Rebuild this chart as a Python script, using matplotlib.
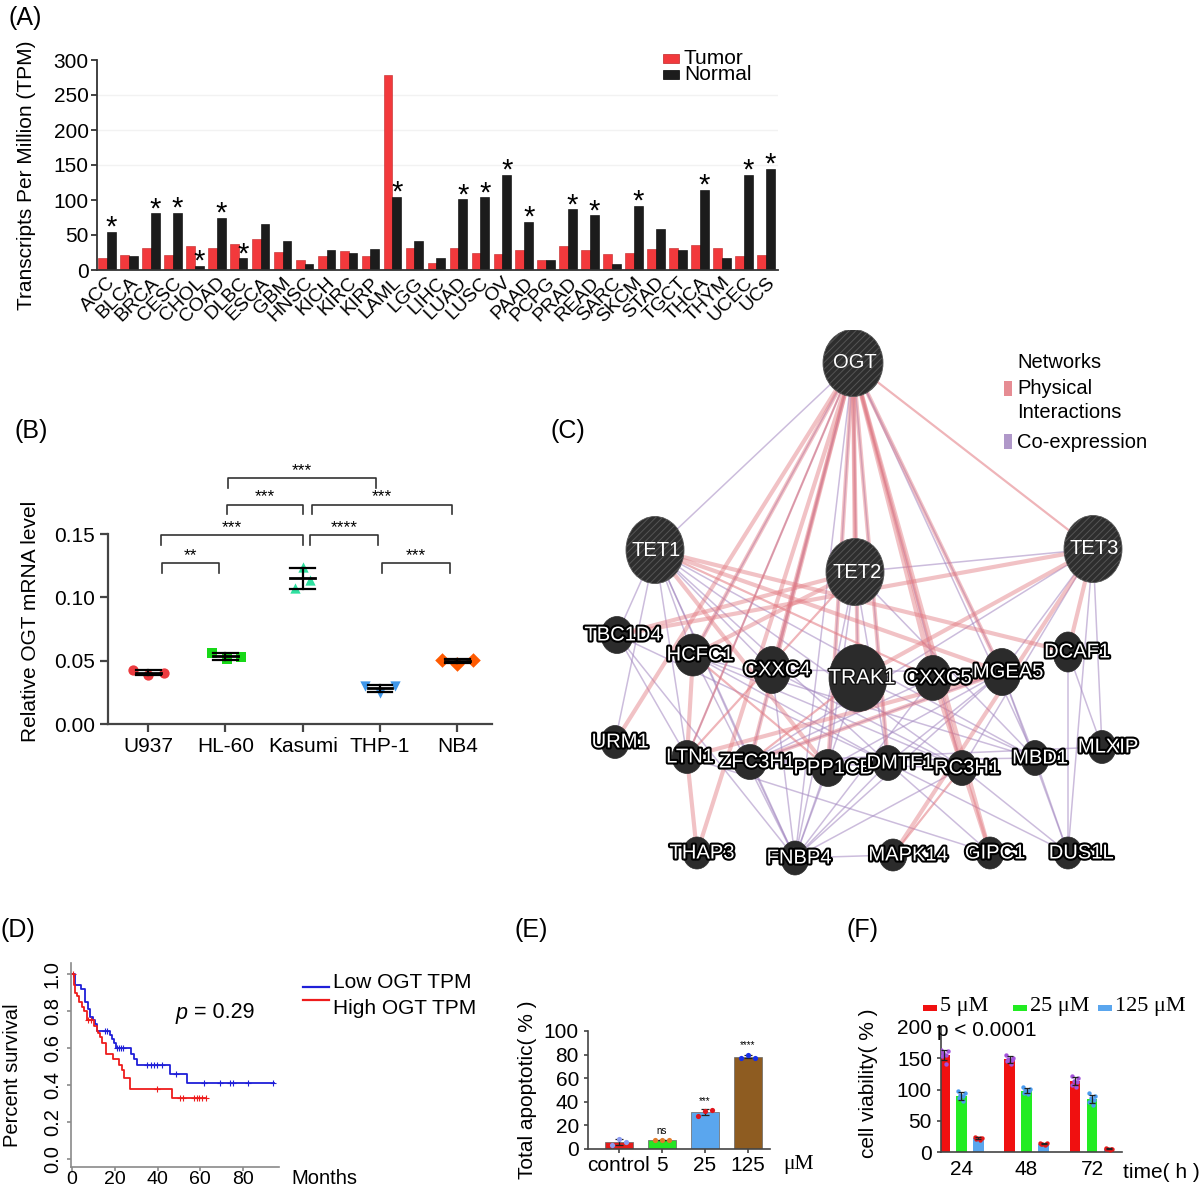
import numpy as np
import matplotlib
matplotlib.use('Agg')
import matplotlib.pyplot as plt
from matplotlib.patches import Ellipse, Rectangle
from matplotlib.lines import Line2D
import matplotlib.patheffects as pe

plt.rcParams['font.family'] = ['Liberation Sans', 'DejaVu Sans']
plt.rcParams['hatch.linewidth'] = 0.7

# ======================= DATA =======================
# (A) pan-cancer OGT expression
cancers = ['ACC', 'BLCA', 'BRCA', 'CESC', 'CHOL', 'COAD', 'DLBC', 'ESCA', 'GBM', 'HNSC',
           'KICH', 'KIRC', 'KIRP', 'LAML', 'LGG', 'LIHC', 'LUAD', 'LUSC', 'OV', 'PAAD',
           'PCPG', 'PRAD', 'READ', 'SARC', 'SKCM', 'STAD', 'TGCT', 'THCA', 'THYM', 'UCEC', 'UCS']
tumor_tpm = [17, 22, 32, 22, 34, 31, 37, 45, 26, 14, 20, 27, 20.5, 278, 31, 10.5,
             32, 24, 23, 28, 14, 35, 29, 23, 24, 30, 32, 36, 32, 20.5, 21]
normal_tpm = [55, 20.5, 81, 82, 6, 75, 17, 66, 42, 9, 29, 25, 30, 105, 42, 17,
              101, 104, 136, 69, 15, 87, 78, 9, 92, 59, 28, 115, 17, 136, 145]
signif_cancers = ['ACC', 'BRCA', 'CESC', 'CHOL', 'COAD', 'DLBC', 'LAML', 'LUAD', 'LUSC',
                  'OV', 'PAAD', 'PRAD', 'READ', 'SKCM', 'THCA', 'UCEC', 'UCS']

# (B) relative OGT mRNA level
cell_lines = ['U937', 'HL-60', 'Kasumi', 'THP-1', 'NB4']
u937_vals = [0.0424, 0.0387, 0.0403]
hl60_vals = [0.056, 0.051, 0.053]
kasumi_vals = [0.107, 0.124, 0.114]
thp1_vals = [0.0300, 0.0245, 0.0297]
nb4_vals = [0.0508, 0.0476, 0.0508]
b_comparisons = [(0, 1, '**'), (0, 2, '***'), (1, 2, '***'), (1, 3, '***'),
                 (2, 3, '****'), (2, 4, '***'), (3, 4, '***')]

# (C) GeneMANIA network
gene_nodes = ['OGT', 'TET1', 'TET2', 'TET3', 'TRAK1', 'TBC1D4', 'HCFC1', 'CXXC4', 'CXXC5',
              'MGEA5', 'DCAF1', 'URM1', 'LTN1', 'ZFC3H1', 'PPP1CB', 'DMTF1', 'RC3H1', 'MBD1',
              'MLXIP', 'THAP3', 'FNBP4', 'MAPK14', 'GIPC1', 'DUS1L']
query_genes = ['OGT', 'TET1', 'TET2', 'TET3']
physical_thick = [('OGT', 'HCFC1'), ('OGT', 'URM1'), ('OGT', 'THAP3'), ('OGT', 'CXXC4'),
                  ('OGT', 'TRAK1'), ('OGT', 'PPP1CB'), ('OGT', 'CXXC5'), ('OGT', 'MGEA5'),
                  ('OGT', 'RC3H1'), ('OGT', 'GIPC1'), ('OGT', 'ZFC3H1'), ('OGT', 'TET2'),
                  ('OGT', 'DMTF1'), ('TET1', 'DCAF1'), ('TET1', 'MGEA5'), ('TET1', 'PPP1CB'),
                  ('TET2', 'TBC1D4'), ('TET2', 'HCFC1'), ('TET3', 'TBC1D4'), ('TET3', 'MAPK14'),
                  ('TET3', 'TRAK1'), ('HCFC1', 'LTN1'), ('LTN1', 'THAP3'), ('MGEA5', 'ZFC3H1'),
                  ('MGEA5', 'LTN1'), ('CXXC5', 'GIPC1'), ('TET3', 'DCAF1')]
physical_thin = [('OGT', 'TET3'), ('OGT', 'LTN1'), ('TET1', 'CXXC5'), ('TET2', 'LTN1'),
                 ('HCFC1', 'PPP1CB'), ('TRAK1', 'ZFC3H1'), ('RC3H1', 'MAPK14')]
coexpression = [('OGT', 'TET1'), ('OGT', 'FNBP4'), ('OGT', 'MBD1'), ('OGT', 'DMTF1'),
                ('OGT', 'ZFC3H1'), ('OGT', 'CXXC4'), ('OGT', 'PPP1CB'), ('OGT', 'MGEA5'),
                ('OGT', 'RC3H1'), ('OGT', 'TRAK1'), ('OGT', 'LTN1'), ('OGT', 'HCFC1'),
                ('TET1', 'TBC1D4'), ('TET1', 'HCFC1'), ('TET1', 'LTN1'), ('TET1', 'ZFC3H1'),
                ('TET1', 'FNBP4'), ('TET1', 'DMTF1'), ('TET1', 'RC3H1'), ('TET1', 'MBD1'),
                ('TET1', 'URM1'), ('TET1', 'CXXC4'), ('TET2', 'TET3'), ('TET2', 'FNBP4'),
                ('TET2', 'DMTF1'), ('TET2', 'PPP1CB'), ('TET2', 'MBD1'), ('TET3', 'MLXIP'),
                ('TET3', 'DUS1L'), ('TET3', 'MGEA5'), ('TET3', 'ZFC3H1'), ('TET3', 'RC3H1'),
                ('TBC1D4', 'LTN1'), ('TBC1D4', 'FNBP4'), ('TBC1D4', 'DMTF1'), ('HCFC1', 'FNBP4'),
                ('HCFC1', 'MBD1'), ('HCFC1', 'RC3H1'), ('HCFC1', 'DMTF1'), ('CXXC4', 'FNBP4'),
                ('CXXC4', 'MGEA5'), ('CXXC4', 'RC3H1'), ('ZFC3H1', 'FNBP4'), ('ZFC3H1', 'MLXIP'),
                ('ZFC3H1', 'RC3H1'), ('ZFC3H1', 'MBD1'), ('PPP1CB', 'FNBP4'), ('DMTF1', 'FNBP4'),
                ('RC3H1', 'FNBP4'), ('MGEA5', 'FNBP4'), ('MGEA5', 'PPP1CB'), ('MGEA5', 'DMTF1'),
                ('MGEA5', 'MBD1'), ('MGEA5', 'DUS1L'), ('DCAF1', 'DUS1L'), ('DCAF1', 'MLXIP'),
                ('MBD1', 'DUS1L'), ('RC3H1', 'DUS1L'), ('DMTF1', 'DUS1L'), ('DMTF1', 'GIPC1'),
                ('MAPK14', 'FNBP4'), ('TRAK1', 'FNBP4'), ('CXXC5', 'FNBP4'), ('CXXC5', 'ZFC3H1'),
                ('TRAK1', 'MBD1'), ('LTN1', 'GIPC1'), ('ZFC3H1', 'PPP1CB'), ('MGEA5', 'ZFC3H1')]

# (D) Kaplan-Meier (months, survival)
low_t = [0, 1.4, 4.2, 6.1, 7.7, 8.4, 9.7, 10.8, 11.9, 17.8, 18.9, 19.8, 20.5, 27.7, 28.8,
         30.3, 46.0, 53.8, 94.4]
low_s = [1.0, 0.94, 0.92, 0.85, 0.81, 0.77, 0.75, 0.73, 0.69, 0.67, 0.65, 0.63, 0.60, 0.57,
         0.54, 0.51, 0.46, 0.41, 0.41]
low_censor = [15.5, 16.5, 20.9, 22.0, 22.9, 24.0, 35.0, 36.9, 38.4, 39.7, 42.0, 48.6, 61.6,
              69.4, 73.8, 75.2, 82.3, 94.0]
high_t = [0, 0.9, 1.5, 2.3, 3.3, 4.5, 5.5, 6.9, 10.5, 11.5, 12.3, 13.1, 14.0, 15.9, 19.4,
          22.0, 23.4, 24.4, 26.9, 46.6, 62.7]
high_s = [1.0, 0.94, 0.90, 0.88, 0.85, 0.82, 0.80, 0.75, 0.72, 0.69, 0.68, 0.66, 0.63, 0.57,
          0.54, 0.51, 0.48, 0.44, 0.38, 0.33, 0.33]
high_censor = [0.3, 7.7, 8.8, 39.7, 50.6, 51.7, 56.9, 58.4, 59.5, 60.8, 62.5]

# (E) total apoptotic (%)
e_groups = ['control', '5', '25', '125']
e_control = [3.4, 8.8, 5.9]
e_5 = [7.3, 7.9, 7.6]
e_25 = [28.0, 32.5, 33.0]
e_125 = [77.5, 80.0, 77.5]
e_signif = ['', 'ns', '***', '****']

# (F) cell viability (%)
f_times = ['24', '48', '72']
f_doses = ['5 \u03bcM', '25 \u03bcM', '125 \u03bcM']
f_5uM = [[164, 161, 158, 156, 153, 141], [156, 151, 149, 147, 145, 141], [122, 118, 114, 112, 108, 104]]
f_25uM = [[98, 95, 92, 89, 86, 81], [104, 101, 99, 97, 95, 93], [94, 90, 87, 84, 80, 76]]
f_125uM = [[24, 23, 22, 22, 21, 20], [14.5, 14, 13.5, 13, 12.5, 12], [6, 5.5, 5, 5, 4.5, 4]]

# ======================= FIGURE =======================
W, H = 1200, 1193
fig = plt.figure(figsize=(W / 100, H / 100), dpi=100)


def rect(x0, y0, x1, y1):
    return [x0 / W, 1 - y1 / H, (x1 - x0) / W, (y1 - y0) / H]


def ftext(x, y, s, **kw):
    kw.setdefault('va', 'center')
    return fig.text(x / W, 1 - y / H, s, **kw)


def style_axes(ax, color='#333333', lw=1.2):
    for s in ('top', 'right'):
        ax.spines[s].set_visible(False)
    for s in ('left', 'bottom'):
        ax.spines[s].set_color(color)
        ax.spines[s].set_linewidth(lw)
    ax.tick_params(colors=color, labelcolor='black', width=lw, length=4)


LABEL_FS = 18
ftext(8, 18, '(A)', fontsize=LABEL_FS)
ftext(15, 431, '(B)', fontsize=LABEL_FS)
ftext(551, 431, '(C)', fontsize=LABEL_FS)
ftext(1, 930, '(D)', fontsize=LABEL_FS)
ftext(514, 930, '(E)', fontsize=LABEL_FS)
ftext(846, 930, '(F)', fontsize=LABEL_FS)

# ---------------- (A) ----------------
axA = fig.add_axes(rect(97, 60, 778, 270))
xa = np.arange(len(cancers))
for gy in (150, 200, 250):
    axA.axhline(gy, color='#f2f2f2', lw=1, zorder=0)
axA.bar(xa - 0.2, tumor_tpm, 0.4, color='#f2393c', edgecolor='#c02525', lw=0.4, zorder=2)
axA.bar(xa + 0.2, normal_tpm, 0.4, color='#1c1c1c', edgecolor='#000000', lw=0.4, zorder=2)
for c in signif_cancers:
    i = cancers.index(c)
    axA.annotate('*', xy=(i + 0.2, normal_tpm[i]), xytext=(0, -3), textcoords='offset points',
                 ha='center', va='baseline', fontsize=21)
axA.set_xlim(-0.45, len(cancers) - 0.45)
axA.set_ylim(0, 300)
axA.set_yticks(np.arange(0, 301, 50))
axA.set_xticks(xa)
axA.set_xticklabels(cancers, rotation=45, ha='right', rotation_mode='anchor', fontsize=14)
style_axes(axA, '#333333', 1.3)
axA.tick_params(axis='x', length=0, pad=3)
axA.tick_params(axis='y', labelsize=15, pad=2)
axA.set_ylabel('Transcripts Per Million (TPM)', fontsize=15)
axA.yaxis.set_label_coords((36 - 97) / (778 - 97), 0.45)
fig.add_artist(Rectangle((663 / W, 1 - 63 / H), 16 / W, 9 / H, transform=fig.transFigure,
                         facecolor='#f2393c', edgecolor='#c02525', lw=0.5))
fig.add_artist(Rectangle((663 / W, 1 - 79 / H), 16 / W, 9 / H, transform=fig.transFigure,
                         facecolor='#1c1c1c', edgecolor='black', lw=0.5))
ftext(684, 58, 'Tumor', fontsize=15)
ftext(684, 75, 'Normal', fontsize=15)

# ---------------- (B) ----------------
axB = fig.add_axes(rect(108, 534, 492, 724))
b_values = [u937_vals, hl60_vals, kasumi_vals, thp1_vals, nb4_vals]
b_markers = ['o', 's', '^', 'v', 'D']
b_colors = ['#ec3b3f', '#18d818', '#2fe0a0', '#3f97ea', '#ff5a00']
b_offsets = [[-0.2, 0.0, 0.2], [-0.18, 0.02, 0.2], [-0.1, 0.0, 0.1], [-0.2, 0.0, 0.2], [-0.2, 0.0, 0.2]]
for i, vals in enumerate(b_values):
    vals = np.array(vals)
    xs = i + np.array(b_offsets[i])
    axB.scatter(xs, vals, marker=b_markers[i], s=55, color=b_colors[i], zorder=3, lw=0)
    m, sd = vals.mean(), vals.std(ddof=1)
    hw = 0.16
    axB.plot([i - hw, i + hw], [m, m], color='black', lw=2, zorder=4)
    axB.plot([i, i], [m - sd, m + sd], color='black', lw=1.6, zorder=4)
    for yy in (m - sd, m + sd):
        axB.plot([i - hw, i + hw], [yy, yy], color='black', lw=1.6, zorder=4)

b_levels = {(0, 1): 0.127, (0, 2): 0.149, (1, 2): 0.173, (1, 3): 0.194,
            (2, 3): 0.149, (2, 4): 0.173, (3, 4): 0.127}
b_inset = {(0, 1): (0.18, 0.08), (0, 2): (0.17, 0.0), (1, 2): (0.02, 0.0), (1, 3): (0.03, 0.05),
           (2, 3): (0.1, 0.02), (2, 4): (0.12, 0.07), (3, 4): (0.03, 0.1)}
for a, b, lab in b_comparisons:
    y = b_levels[(a, b)]
    x1 = a + b_inset[(a, b)][0]
    x2 = b - b_inset[(a, b)][1]
    axB.plot([x1, x1, x2, x2], [y - 0.0075, y, y, y - 0.0075], color='#333333', lw=1.2,
             clip_on=False)
    axB.annotate(lab, xy=((x1 + x2) / 2, y), xytext=(0, 2.5), textcoords='offset points',
                 ha='center', va='baseline', fontsize=12.5, annotation_clip=False)
axB.set_xlim(-0.52, 4.45)
axB.set_ylim(0, 0.15)
axB.set_yticks([0, 0.05, 0.10, 0.15])
axB.set_yticklabels(['0.00', '0.05', '0.10', '0.15'])
axB.set_xticks(range(5))
axB.set_xticklabels(cell_lines)
style_axes(axB, '#444444', 1.6)
axB.tick_params(length=6, labelsize=15)
axB.set_ylabel('Relative OGT mRNA level', fontsize=15)
axB.yaxis.set_label_coords((40 - 108) / (492 - 108), 0.54)

# ---------------- (C) ----------------
axC = fig.add_axes(rect(560, 330, 1200, 890))
axC.set_xlim(560, 1200)
axC.set_ylim(890, 330)
axC.axis('off')
node_layout = {
    'OGT': (853, 363, 60, 67, 855), 'TET1': (655, 550, 58, 67, 656),
    'TET2': (855, 572, 58, 67, 857), 'TET3': (1093, 549, 58, 67, 1094),
    'TRAK1': (858, 678, 58, 67, 862), 'TBC1D4': (617, 635, 32, 37, 623),
    'HCFC1': (693, 655, 37, 42, 700), 'CXXC4': (772, 670, 37, 47, 777),
    'CXXC5': (933, 678, 37, 45, 938), 'MGEA5': (1002, 672, 38, 47, 1008),
    'DCAF1': (1068, 652, 30, 40, 1077), 'URM1': (615, 742, 28, 33, 620),
    'LTN1': (687, 757, 30, 33, 690), 'ZFC3H1': (750, 762, 33, 35, 757),
    'PPP1CB': (828, 768, 33, 37, 833), 'DMTF1': (888, 763, 30, 35, 900),
    'RC3H1': (962, 768, 30, 35, 967), 'MBD1': (1035, 758, 28, 35, 1040),
    'MLXIP': (1102, 747, 28, 33, 1108), 'THAP3': (697, 853, 28, 32, 702),
    'FNBP4': (795, 858, 28, 34, 799), 'MAPK14': (893, 855, 28, 32, 908),
    'GIPC1': (990, 853, 28, 32, 995), 'DUS1L': (1068, 853, 28, 32, 1081),
}
PINK = '#e27880'
PURPLE = '#a286c0'


def draw_edges(edges, color, lw, alpha):
    for a, b in edges:
        xa_, ya_ = node_layout[a][:2]
        xb_, yb_ = node_layout[b][:2]
        axC.plot([xa_, xb_], [ya_, yb_], color=color, lw=lw, alpha=alpha,
                 solid_capstyle='butt', zorder=1)


draw_edges(coexpression, PURPLE, 1.1, 0.55)
draw_edges(physical_thin, PINK, 1.6, 0.55)
draw_edges(physical_thick, PINK, 3.0, 0.45)
for name in gene_nodes:
    x, y, w, h, lx = node_layout[name]
    if name in query_genes:
        axC.add_patch(Ellipse((x, y), w, h, facecolor='#2e2e2e', edgecolor='#555555',
                              hatch='/////', lw=0.6, zorder=3))
        axC.text(lx, y, name, color='white', fontsize=14.5, ha='center', va='center', zorder=5)
    else:
        axC.add_patch(Ellipse((x, y), w, h, facecolor='#2b2b2b', edgecolor='#2b2b2b',
                              lw=0.5, zorder=3))
        if name == 'TRAK1':
            axC.text(lx, y, name, color='white', fontsize=15, ha='center', va='center', zorder=5,
                     path_effects=[pe.withStroke(linewidth=2, foreground='#111111')])
        else:
            axC.text(lx, y, name, color='white', fontsize=14.5, ha='center', va='center', zorder=5,
                     path_effects=[pe.withStroke(linewidth=3, foreground='black')])
ftext(1017, 362, 'Networks', fontsize=14.5)
ftext(1017, 388, 'Physical', fontsize=14.5)
ftext(1017, 413, 'Interactions', fontsize=14.5)
ftext(1017, 442, 'Co-expression', fontsize=14.5)
fig.add_artist(Rectangle((1004 / W, 1 - 396 / H), 8 / W, 15 / H, transform=fig.transFigure,
                         facecolor=PINK, edgecolor='none', alpha=0.85))
fig.add_artist(Rectangle((1004 / W, 1 - 449 / H), 8 / W, 15 / H, transform=fig.transFigure,
                         facecolor=PURPLE, edgecolor='none', alpha=0.85))

# ---------------- (D) ----------------
axD = fig.add_axes(rect(71, 963, 279, 1167))
axD.step(low_t, low_s, where='post', color='#1f1fd8', lw=1.3)
axD.step(high_t, high_s, where='post', color='#ee1c1c', lw=1.3)


def surv_at(tarr, sarr, t):
    idx = np.searchsorted(tarr, t, side='right') - 1
    return np.array(sarr)[idx]


axD.plot(low_censor, surv_at(low_t, low_s, low_censor), '+', color='#1f1fd8', ms=5, mew=0.8)
axD.plot(high_censor, surv_at(high_t, high_s, high_censor), '+', color='#ee1c1c', ms=5, mew=0.8)
axD.set_xlim(-0.47, 96.8)
axD.set_ylim(-0.043, 1.06)
axD.set_xticks([0, 20, 40, 60, 80])
axD.set_yticks(np.arange(0, 1.01, 0.2))
axD.set_yticklabels(['%.1f' % v for v in np.arange(0, 1.01, 0.2)], rotation=90, va='center')
style_axes(axD, '#8a8a8a', 1.2)
axD.tick_params(labelsize=14.5, length=3)
axD.tick_params(axis='x', pad=0, labelsize=14)
axD.set_ylabel('Percent survival', fontsize=14.5)
axD.yaxis.set_label_coords((22 - 71) / (279 - 71), 0.45)
ftext(291, 1179, 'Months', fontsize=14.5)
ftext(176, 1013, 'p', fontsize=15.5, style='italic')
ftext(194, 1013, '= 0.29', fontsize=15.5)
fig.add_artist(Line2D([303 / W, 329 / W], [1 - 987 / H, 1 - 987 / H], color='#1f1fd8', lw=1.6))
fig.add_artist(Line2D([303 / W, 329 / W], [1 - 1000 / H, 1 - 1000 / H], color='#ee1c1c', lw=1.6))
ftext(333, 983, 'Low OGT TPM', fontsize=15)
ftext(333, 1008, 'High OGT TPM', fontsize=15)

# ---------------- (E) ----------------
axE = fig.add_axes(rect(588, 1031, 770, 1149))
e_values = [e_control, e_5, e_25, e_125]
e_colors = ['#e51c1c', '#24e624', '#5aa6ee', '#8e5c21']
e_dot_colors = ['#8c9cf2', '#e07a2a', '#e0141c', '#1830e6']
e_off = [-0.16, 0.0, 0.16]
for i, vals in enumerate(e_values):
    vals = np.array(vals)
    m, sd = vals.mean(), vals.std(ddof=1)
    axE.bar(i, m, 0.66, color=e_colors[i], edgecolor='#666666', lw=0.5, zorder=2)
    axE.errorbar(i, m, yerr=sd, color='#222222', capsize=3, lw=0.9, capthick=0.9, zorder=3)
    axE.scatter(i + np.array(e_off), vals, s=14, color=e_dot_colors[i], zorder=4, lw=0)
    if e_signif[i]:
        axE.text(i, vals.max() + 3.5, e_signif[i], ha='center', va='bottom', fontsize=7)
axE.set_xlim(-0.72, 3.51)
axE.set_ylim(0, 100)
axE.set_yticks(np.arange(0, 101, 20))
axE.set_xticks(range(4))
axE.set_xticklabels(e_groups)
style_axes(axE, '#444444', 1.2)
axE.tick_params(labelsize=15, length=3)
axE.tick_params(axis='x', pad=2)
axE.set_ylabel('Total apoptotic( % )', fontsize=15)
axE.yaxis.set_label_coords((537 - 588) / (770 - 588), 0.5)
ftext(783, 1165, '\u03bcM', fontsize=15.5, family=['Liberation Serif', 'DejaVu Serif'])

# ---------------- (F) ----------------
axF = fig.add_axes(rect(941, 1027, 1122, 1152))
f_sets = [f_5uM, f_25uM, f_125uM]
f_colors = ['#f01010', '#22ec22', '#5aa6ee']
f_dot_colors = ['#a452dc', '#4a9cf0', '#e41818']
f_shift = [-0.26, 0.0, 0.26]
f_jit = [-0.05, 0.05, -0.02, 0.03, -0.04, 0.02]
for k, dset in enumerate(f_sets):
    for g, vals in enumerate(dset):
        vals = np.array(vals, dtype=float)
        m, sd = vals.mean(), vals.std(ddof=1)
        xc = g + f_shift[k]
        axF.bar(xc, m, 0.165, color=f_colors[k], zorder=2)
        axF.scatter(xc + np.array(f_jit), vals, s=10, color=f_dot_colors[k], zorder=3, lw=0)
        axF.errorbar(xc, m, yerr=sd, color='#222222', capsize=2.5, lw=0.9, capthick=0.9, zorder=4)
axF.set_xlim(-0.31, 2.46)
axF.set_ylim(0, 200)
axF.set_yticks([0, 50, 100, 150, 200])
axF.set_xticks(range(3))
axF.set_xticklabels(f_times)
style_axes(axF, '#444444', 1.2)
axF.tick_params(labelsize=15, length=3)
axF.tick_params(axis='x', length=0, pad=6)
axF.set_ylabel('cell viability( % )', fontsize=15)
axF.yaxis.set_label_coords((878 - 941) / (1122 - 941), 0.55)
ftext(1123, 1172, 'time( h )', fontsize=15)
ftext(937, 1031, 'p < 0.0001', fontsize=15)
f_leg_x = [923, 1013, 1098]
for k in range(3):
    fig.add_artist(Rectangle((f_leg_x[k] / W, 1 - 1011 / H), 14 / W, 6 / H,
                             transform=fig.transFigure, facecolor=f_colors[k], edgecolor='none'))
    ftext(f_leg_x[k] + 17, 1006, f_doses[k], fontsize=16,
          family=['Liberation Serif', 'DejaVu Serif'])

fig.savefig('out.png', dpi=100)
